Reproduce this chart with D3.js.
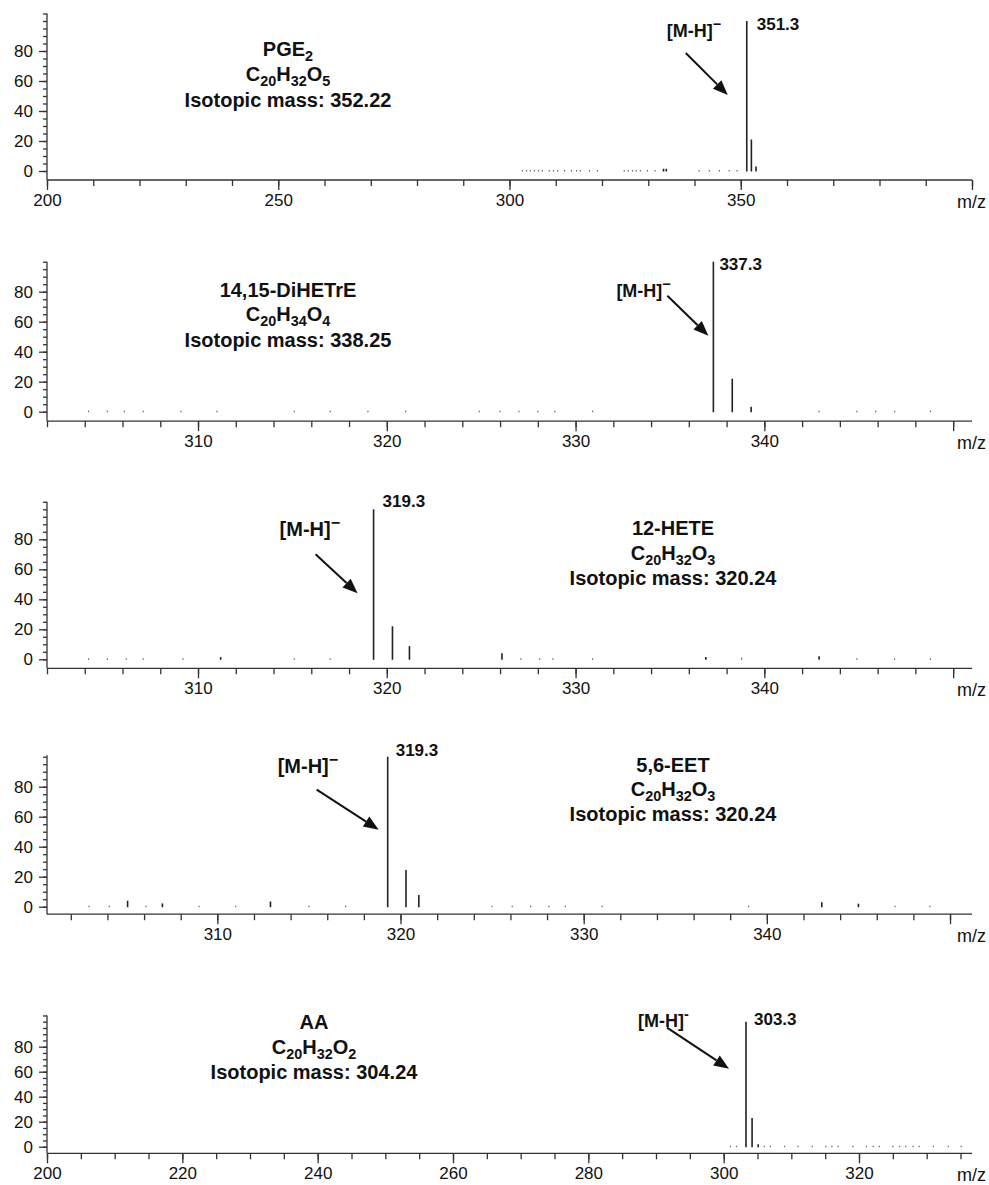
<!DOCTYPE html>
<html>
<head>
<meta charset="utf-8">
<script src="https://cdn.jsdelivr.net/npm/d3@7"></script>
<style>
body { margin: 0; background: #fff; }
svg text { font-family: "Liberation Sans", Arial, sans-serif; fill: #111; }
.axis text { font-size: 17px; }
.axis path, .axis line { stroke: #333; stroke-width: 1.3; }
.title { font-weight: bold; font-size: 20px; }
.ion { font-weight: bold; }
.peaklbl { font-weight: bold; font-size: 17px; }
</style>
</head>
<body>
<div id="chart"></div>
<script>
// spectrum values (m/z, relative intensity %)
var pgeMz  = [302.8, 303.7, 304.5, 305.4, 306.3, 307.1, 308.6, 309.5, 310.4, 311.9, 313.4, 314.5, 315.3, 317.3, 319.0,
              324.8, 325.7, 326.6, 327.4, 328.3, 329.8, 331.5, 333.3, 333.9, 341.0, 343.2, 345.4, 347.5, 349.2,
              351.3, 352.3, 353.3];
var pgeInt = [0.7, 0.7, 0.7, 0.7, 0.7, 0.7, 0.7, 0.7, 0.7, 0.7, 0.7, 0.7, 0.7, 0.7, 0.7,
              0.7, 0.7, 0.7, 0.7, 0.7, 0.7, 0.7, 1.5, 1.5, 0.7, 0.7, 0.7, 0.7, 0.7,
              100, 21, 3];

var dihMz  = [304.2, 305.2, 306.1, 307.1, 309.1, 311.0, 315.1, 317.0, 319.0, 321.0, 324.9, 326.0, 327.0, 328.0, 328.9, 330.9,
              337.3, 338.3, 339.3, 342.9, 344.9, 345.9, 346.9, 348.8];
var dihInt = [0.7, 0.7, 0.7, 0.7, 0.7, 0.7, 0.7, 0.7, 0.7, 0.7, 0.7, 0.7, 0.7, 0.7, 0.7, 0.7,
              100, 22, 3.3, 0.7, 0.7, 0.7, 0.7, 0.7];

var heteMz  = [304.2, 305.2, 306.2, 307.1, 309.2, 311.2, 315.1, 317.0, 319.3, 320.3, 321.2, 326.1, 327.1, 328.1, 328.8,
               330.9, 336.9, 338.8, 342.9, 344.9, 346.9, 348.8];
var heteInt = [0.7, 0.7, 0.7, 0.7, 0.7, 1.5, 0.7, 0.7, 100, 22, 8.8, 4, 0.7, 0.7, 0.7,
               0.7, 1.5, 1, 2, 0.7, 0.7, 0.7];

var eetMz  = [303.0, 304.1, 305.1, 306.1, 307.0, 309.0, 311.0, 312.9, 315.0, 317.0, 319.3, 320.3, 321.0, 325.0, 326.1,
              327.1, 328.1, 329.0, 331.0, 339.0, 343.0, 345.0, 347.0, 348.9];
var eetInt = [0.7, 0.7, 4, 0.7, 2.2, 0.7, 0.7, 3.5, 0.7, 0.7, 100, 24.5, 7.8, 0.7, 0.7,
              0.7, 0.7, 0.7, 0.7, 0.7, 3, 2, 0.7, 0.7];

var aaMz  = [301.0, 301.9, 303.3, 304.2, 305.1, 306.0, 306.9, 309.0, 311.0, 313.1, 315.1, 316.0, 316.9, 319.1, 321.1,
             322.1, 323.0, 325.0, 326.0, 326.9, 328.0, 328.9, 331.0, 333.2, 335.1];
var aaInt = [0.7, 0.7, 100, 23, 2, 0.7, 0.7, 0.7, 0.7, 0.7, 0.7, 0.7, 0.7, 0.7, 0.7,
             0.7, 0.7, 0.7, 0.7, 0.7, 0.7, 0.7, 0.7, 0.7, 0.7];

// labels ("_" = subscript, "^" = superscript)
var names    = ["PGE_2", "14,15-DiHETrE", "12-HETE", "5,6-EET", "AA"];
var formulas = ["C_20H_32O_5", "C_20H_34O_4", "C_20H_32O_3", "C_20H_32O_3", "C_20H_32O_2"];
var isoMass  = ["352.22", "338.25", "320.24", "320.24", "304.24"];
var mainPeak = [351.3, 337.3, 319.3, 319.3, 303.3];
var ionLabel = ["[M-H]^−", "[M-H]^−", "[M-H]^−", "[M-H]^−", "[M-H]^-"];

var svg = d3.select("#chart")
    .append("svg")
    .attr("width", 989)
    .attr("height", 1185);

var left = 47, right = 972;

// layout of each panel
var panels = [
    { mz: pgeMz, inten: pgeInt, xDom: [200, 400], major: 50, minor: 10, labels: [200, 250, 300, 350],
      y0: 171, k: 1.5, yMin: -6, yMax: 105, title: [288, 56, 81, 107],
      arrow: [-61, -118, -19, -76], ion: [-80, -134, 18], pk: [10, -141] },
    { mz: dihMz, inten: dihInt, xDom: [302, 351], major: 10, minor: 2, labels: [310, 320, 330, 340],
      y0: 411.7, k: 1.5, yMin: -6.3, yMax: 100, title: [288, 297, 321, 347],
      arrow: [-46, -116, -5, -76], ion: [-97, -115, 18], pk: [6, -142] },
    { mz: heteMz, inten: heteInt, xDom: [302, 351], major: 10, minor: 2, labels: [310, 320, 330, 340],
      y0: 659.3, k: 1.5, yMin: -6, yMax: 105, title: [673, 535, 560, 585],
      arrow: [-58, -105, -16, -66], ion: [-94, -123, 20], pk: [9, -152] },
    { mz: eetMz, inten: eetInt, xDom: [300.7, 351.2], major: 10, minor: 2, labels: [310, 320, 330, 340],
      y0: 906.7, k: 1.5, yMin: -5, yMax: 101, title: [673, 772, 796, 821],
      arrow: [-71, -117, -9, -77], ion: [-110, -134, 20], pk: [8, -151] },
    { mz: aaMz, inten: aaInt, xDom: [200, 336.7], major: 20, minor: 5, labels: [200, 220, 240, 260, 280, 300, 320],
      y0: 1146.7, k: 1.25, yMin: -5.3, yMax: 105, title: [314, 1029, 1054, 1079],
      arrow: [-79, -119, -17, -78], ion: [-108, -120, 18], pk: [8, -122] }
];

function richText(g, str) {
    var parts = str.split(/(_\d+|\^\S)/).filter(function (s) { return s.length; });
    var shift = 0;
    parts.forEach(function (p) {
        var t = g.append("tspan");
        var target = 0, txt = p;
        if (p[0] === "_") { target = 5; txt = p.slice(1); t.style("font-size", "0.72em"); }
        else if (p[0] === "^") { target = -8; txt = p.slice(1); t.style("font-size", "0.8em"); }
        t.attr("dy", target - shift).text(txt);
        shift = target;
    });
}

panels.forEach(function (p, i) {
    var g = svg.append("g");

    var x = d3.scaleLinear().domain(p.xDom).range([left, right]);
    var y = d3.scaleLinear()
        .domain([p.yMin, p.yMax])
        .range([p.y0 - p.yMin * p.k, p.y0 - p.yMax * p.k]);
    var yBase = y(p.yMin);

    // x axis: minor then major ticks
    var minorX = d3.range(Math.ceil(p.xDom[0] / p.minor) * p.minor, p.xDom[1] + 0.001, p.minor);
    var majorX = minorX.filter(function (v) { return Math.abs(v % p.major) < 1e-6; });

    g.append("g")
        .attr("class", "axis")
        .attr("transform", `translate(0, ${yBase})`)
        .call(d3.axisBottom(x).tickValues(minorX).tickSize(6).tickFormat(""))
        .select(".domain").attr("d", `M${left},0H${right}`);

    g.append("g")
        .attr("class", "axis")
        .attr("transform", `translate(0, ${yBase})`)
        .call(d3.axisBottom(x).tickValues(majorX).tickSize(10).tickPadding(4)
            .tickFormat(function (d) { return p.labels.indexOf(d) >= 0 ? d : ""; }))
        .select(".domain").remove();

    g.append("text")
        .attr("class", "axis")
        .attr("x", 986)
        .attr("y", yBase + 28)
        .attr("text-anchor", "end")
        .style("font-size", "18px")
        .text("m/z");

    // y axis
    var minorY = d3.range(0, p.yMax + 0.001, 5);
    g.append("g")
        .attr("class", "axis")
        .attr("transform", `translate(${left}, 0)`)
        .call(d3.axisLeft(y).tickValues(minorY).tickSize(4).tickFormat(""))
        .select(".domain").attr("d", `M0,${y(p.yMax)}V${yBase}`);

    g.append("g")
        .attr("class", "axis")
        .attr("transform", `translate(${left}, 0)`)
        .call(d3.axisLeft(y).tickValues([0, 20, 40, 60, 80]).tickSize(8).tickPadding(6))
        .select(".domain").remove();

    // peaks
    var pts = p.mz.map(function (m, j) { return { mz: m, v: p.inten[j] }; });
    g.selectAll("line.peak")
        .data(pts)
        .enter()
        .append("line")
        .attr("class", "peak")
        .attr("x1", d => x(d.mz))
        .attr("x2", d => x(d.mz))
        .attr("y1", y(0) + 0.5)
        .attr("y2", d => Math.min(y(d.v), y(0) - 0.8))
        .attr("stroke", d => d.v > 1.2 ? "#222" : "#666")
        .attr("stroke-width", d => d.v > 1.2 ? 1.6 : 1.2);

    // compound text block
    var tx = p.title[0];
    [names[i], formulas[i], "Isotopic mass: " + isoMass[i]].forEach(function (s, r) {
        var t = g.append("text")
            .attr("class", "title")
            .attr("x", tx)
            .attr("y", p.title[r + 1])
            .attr("text-anchor", "middle");
        richText(t, s);
    });

    // annotation for the [M-H]- ion
    var px = x(mainPeak[i]), py = y(0);
    var x1 = px + p.arrow[0], y1 = py + p.arrow[1], x2 = px + p.arrow[2], y2 = py + p.arrow[3];
    var ang = Math.atan2(y2 - y1, x2 - x1), hl = 15, hw = 6;
    var bx = x2 - hl * Math.cos(ang), by = y2 - hl * Math.sin(ang);
    g.append("line")
        .attr("x1", x1).attr("y1", y1).attr("x2", bx).attr("y2", by)
        .attr("stroke", "#111").attr("stroke-width", 2);
    g.append("polygon")
        .attr("points", [
            [x2, y2],
            [bx + hw * Math.sin(ang), by - hw * Math.cos(ang)],
            [bx - hw * Math.sin(ang), by + hw * Math.cos(ang)]
        ].map(d => d.join(",")).join(" "))
        .attr("fill", "#111");

    var ion = g.append("text")
        .attr("class", "ion")
        .attr("x", px + p.ion[0])
        .attr("y", py + p.ion[1])
        .style("font-size", p.ion[2] + "px");
    richText(ion, ionLabel[i]);

    g.append("text")
        .attr("class", "peaklbl")
        .attr("x", px + p.pk[0])
        .attr("y", py + p.pk[1])
        .text(mainPeak[i].toFixed(1));
});
</script>
</body>
</html>
